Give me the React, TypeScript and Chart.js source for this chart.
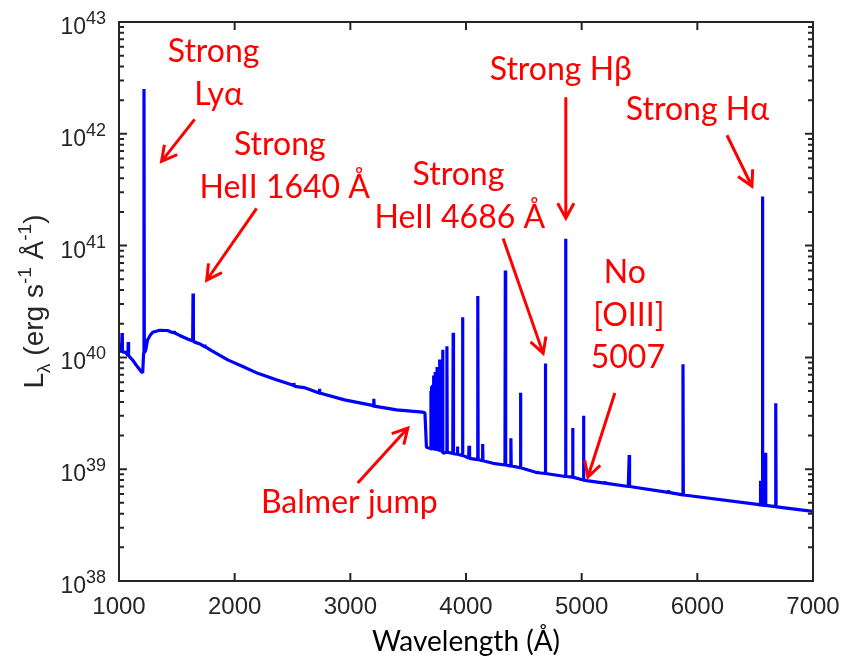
import React, { useEffect, useRef } from 'react';
import { Chart, registerables } from 'chart.js';

Chart.register(...registerables);

// ---------------- data ----------------
const xTickValues = [1000, 2000, 3000, 4000, 5000, 6000, 7000];
const yDecadeExponents = [38, 39, 40, 41, 42, 43];

// continuum (wavelength in Å, L_lambda in erg s^-1 Å^-1)
const continuumWave = [
  1000, 1012, 1058, 1100, 1117, 1150, 1195, 1205, 1230, 1247, 1270, 1291, 1352,
  1420, 1455, 1520, 1593, 1654, 1700, 1800, 1940, 2070, 2200, 2360, 2480, 2520,
  2600, 2950, 3190, 3400, 3623, 3645, 3658, 3700, 3802, 4033, 4250, 4379, 4667,
  4869, 5043, 5403, 5900, 6520, 6686, 7000,
];
const continuumLum = [
  1.34e40, 1.15e40, 1.11e40, 9.9e39, 9.5e39, 8.5e39, 7.4e39, 7.3e39, 1.15e40, 1.43e40, 1.58e40, 1.68e40, 1.75e40,
  1.74e40, 1.68e40, 1.58e40, 1.46e40, 1.37e40, 1.32e40, 1.15e40, 9.5e39, 8.3e39, 7.2e39, 6.3e39, 5.75e39, 5.5e39,
  5.37e39, 4.17e39, 3.72e39, 3.39e39, 3.24e39, 3.2e39, 1.57e39, 1.51e39, 1.39e39, 1.25e39, 1.12e39, 1.07e39, 9.2e38,
  8.6e38, 7.9e38, 7.0e38, 5.85e38, 4.85e38, 4.6e38, 4.2e38,
];

// emission lines: centre wavelength, peak and local base level
const lineWave = [
  1026, 1080, 1216, 1476, 1640, 1741, 2512, 2733, 3203,
  3697, 3704, 3712, 3722, 3734, 3750, 3771, 3798, 3835, 3889, 3926, 3970,
  4026, 4102, 4144, 4340, 4388, 4471, 4620, 4686, 4861, 4922, 5016, 5200, 5411,
  5750, 5876, 6545, 6563, 6590, 6678,
];
const linePeak = [
  1.65e40, 1.37e40, 2.51e42, 1.72e40, 3.72e40, 1.3e40, 5.9e39, 5.25e39, 4.27e39,
  5.0e39, 5.5e39, 5.65e39, 6.9e39, 7.4e39, 8.2e39, 9.6e39, 1.17e40, 1.26e40, 1.66e40, 1.6e39, 2.29e40,
  1.62e39, 3.55e40, 1.68e39, 6.0e40, 1.89e39, 4.82e39, 9.6e38, 8.8e39, 1.15e41, 2.34e39, 3.0e39, 7.8e38, 1.34e39,
  6.5e38, 8.7e39, 7.9e38, 2.75e41, 1.4e39, 3.88e39,
];
const lineBase = [
  1.12e40, 1.04e40, 1.1e40, 1.66e40, 1.4e40, 1.25e40, 5.6e39, 4.8e39, 3.67e39,
  1.53e39, 1.53e39, 1.52e39, 1.52e39, 1.51e39, 1.5e39, 1.48e39, 1.45e39, 1.42e39, 1.38e39, 1.36e39, 1.33e39,
  1.26e39, 1.22e39, 1.19e39, 1.09e39, 1.07e39, 1.03e39, 9.3e38, 9.15e38, 8.6e38, 8.5e38, 8.0e38, 7.5e38, 7.0e38,
  6.2e38, 5.9e38, 4.8e38, 4.78e38, 4.75e38, 4.62e38,
];

// annotations (placed in data coordinates: wavelength, log10 L)
const labelText = ['Strong', 'Lyα', 'Strong', 'HeII 1640 Å', 'Strong', 'HeII 4686 Å', 'Strong Hβ', 'Strong Hα', 'No', '[OIII]', '5007', 'Balmer jump'];
const labelWave = [1818, 1861, 2390, 2433, 3935, 3947, 4820, 6001, 5373, 5408, 5399, 2991];
const labelLogL = [42.64, 42.255, 41.808, 41.424, 41.54, 41.156, 42.479, 42.121, 40.664, 40.28, 39.905, 38.608];

const arrowFromWave = [1654, 2190, 4321, 4863, 6256, 5287, 3064];
const arrowFromLogL = [42.129, 41.333, 41.064, 42.327, 41.987, 39.681, 38.876];
const arrowToWave = [1368, 1758, 4667, 4863, 6472, 5054, 3497];
const arrowToLogL = [41.753, 40.69, 40.036, 41.245, 41.531, 38.93, 39.368];

// ---------------- styles ----------------
const AXIS_COLOR = '#262626';
const TICK_FONT = "'Liberation Sans', Arial, Helvetica, sans-serif";
const NOTE_FONT = "Lato, 'Open Sans', sans-serif";
const LINE_HALF_WIDTH = 3;

function buildSpectrum() {
  const pts: { x: number; y: number }[] = [];
  continuumWave.forEach((w, i) => pts.push({ x: w, y: continuumLum[i] }));
  lineWave.forEach((w, i) => {
    pts.push({ x: w - LINE_HALF_WIDTH, y: lineBase[i] });
    pts.push({ x: w, y: linePeak[i] });
    pts.push({ x: w + LINE_HALF_WIDTH, y: lineBase[i] });
  });
  pts.sort((a, b) => a.x - b.x);
  return pts;
}

function drawArrow(ctx: CanvasRenderingContext2D, x1: number, y1: number, x2: number, y2: number) {
  const ang = Math.atan2(y2 - y1, x2 - x1);
  const head = 17;
  const spread = 0.5;
  ctx.beginPath();
  ctx.moveTo(x1, y1);
  ctx.lineTo(x2, y2);
  ctx.moveTo(x2 - head * Math.cos(ang - spread), y2 - head * Math.sin(ang - spread));
  ctx.lineTo(x2, y2);
  ctx.lineTo(x2 - head * Math.cos(ang + spread), y2 - head * Math.sin(ang + spread));
  ctx.stroke();
}

const framePlugin = {
  id: 'matlabFrame',
  afterDraw(chart: any) {
    const { ctx, chartArea: a, scales } = chart;
    const xs = scales.x;
    const ys = scales.y;
    ctx.save();

    // box + inward ticks
    ctx.strokeStyle = AXIS_COLOR;
    ctx.lineWidth = 2;
    ctx.strokeRect(a.left, a.top, a.right - a.left, a.bottom - a.top);
    ctx.beginPath();
    xTickValues.forEach((v) => {
      const px = xs.getPixelForValue(v);
      ctx.moveTo(px, a.bottom);
      ctx.lineTo(px, a.bottom - 8);
      ctx.moveTo(px, a.top);
      ctx.lineTo(px, a.top + 8);
    });
    yDecadeExponents.forEach((e, i) => {
      for (let k = 1; k <= 9; k++) {
        if (k > 1 && i === yDecadeExponents.length - 1) break;
        const py = ys.getPixelForValue(k * Math.pow(10, e));
        const len = k === 1 ? 8 : 5;
        ctx.moveTo(a.left, py);
        ctx.lineTo(a.left + len, py);
        ctx.moveTo(a.right, py);
        ctx.lineTo(a.right - len, py);
      }
    });
    ctx.stroke();

    // y tick labels 10^n
    ctx.fillStyle = AXIS_COLOR;
    ctx.textBaseline = 'alphabetic';
    yDecadeExponents.forEach((e) => {
      const py = ys.getPixelForValue(Math.pow(10, e));
      ctx.font = `23px ${TICK_FONT}`;
      ctx.textAlign = 'right';
      ctx.fillText('10', a.left - 33, py + 12);
      ctx.font = `18px ${TICK_FONT}`;
      ctx.textAlign = 'left';
      ctx.fillText(String(e), a.left - 33, py + 2);
    });

    // y axis title: L_λ (erg s^-1 Å^-1)
    const parts: [string, number, number][] = [
      ['L', 28, 0],
      ['λ', 19, 7],
      [' (erg s', 28, 0],
      ['-1', 19, -12],
      [' Å', 28, 0],
      ['-1', 19, -12],
      [')', 28, 0],
    ];
    let total = 0;
    parts.forEach(([t, s]) => {
      ctx.font = `${s}px ${TICK_FONT}`;
      total += ctx.measureText(t).width;
    });
    ctx.save();
    ctx.translate(43, (a.top + a.bottom) / 2);
    ctx.rotate(-Math.PI / 2);
    ctx.textAlign = 'left';
    let cx = -total / 2;
    parts.forEach(([t, s, dy]) => {
      ctx.font = `${s}px ${TICK_FONT}`;
      ctx.fillText(t, cx, dy);
      cx += ctx.measureText(t).width;
    });
    ctx.restore();

    // annotations
    ctx.fillStyle = '#ff0000';
    ctx.strokeStyle = '#ff0000';
    ctx.lineWidth = 3;
    ctx.lineCap = 'butt';
    ctx.lineJoin = 'miter';
    ctx.font = `32px ${NOTE_FONT}`;
    ctx.textAlign = 'center';
    labelText.forEach((t, i) => {
      ctx.fillText(t, xs.getPixelForValue(labelWave[i]), ys.getPixelForValue(Math.pow(10, labelLogL[i])));
    });
    arrowFromWave.forEach((w, i) => {
      drawArrow(
        ctx,
        xs.getPixelForValue(w),
        ys.getPixelForValue(Math.pow(10, arrowFromLogL[i])),
        xs.getPixelForValue(arrowToWave[i]),
        ys.getPixelForValue(Math.pow(10, arrowToLogL[i]))
      );
    });
    ctx.restore();
  },
};

export default function App() {
  const canvasRef = useRef<HTMLCanvasElement | null>(null);

  useEffect(() => {
    if (!canvasRef.current) return;
    const chart = new Chart(canvasRef.current, {
      type: 'line',
      data: {
        datasets: [
          {
            label: 'L_lambda',
            data: buildSpectrum(),
            borderColor: '#0000ff',
            borderWidth: 3.2,
            pointRadius: 0,
            tension: 0,
            fill: false,
            borderJoinStyle: 'bevel',
          },
        ],
      },
      options: {
        responsive: false,
        animation: false,
        devicePixelRatio: 1,
        layout: { padding: { left: 0, right: 29, top: 22, bottom: 0 } },
        plugins: { legend: { display: false }, tooltip: { enabled: false } },
        scales: {
          x: {
            type: 'linear',
            min: 1000,
            max: 7000,
            grid: { display: false, drawTicks: false },
            border: { display: false },
            ticks: {
              stepSize: 1000,
              padding: 12,
              color: AXIS_COLOR,
              font: { family: TICK_FONT, size: 24 },
              maxRotation: 0,
              callback: (v: any) => String(v),
            },
            title: {
              display: true,
              text: 'Wavelength (Å)',
              color: '#000000',
              font: { family: NOTE_FONT, size: 28 },
              padding: { top: 0, bottom: 1 },
            },
            afterFit: (s: any) => {
              s.height = 79;
              s.paddingLeft = 0;
              s.paddingRight = 0;
            },
          },
          y: {
            type: 'logarithmic',
            min: 1e38,
            max: 1e43,
            grid: { display: false, drawTicks: false },
            border: { display: false },
            ticks: { display: false },
            afterFit: (s: any) => {
              s.width = 119;
            },
          },
        },
      },
      plugins: [framePlugin],
    } as any);
    return () => chart.destroy();
  }, []);

  return (
    <div style={{ position: 'absolute', left: 0, top: 0, width: 842, height: 660, background: '#ffffff' }}>
      <canvas ref={canvasRef} width={842} height={660} style={{ display: 'block' }} />
    </div>
  );
}
